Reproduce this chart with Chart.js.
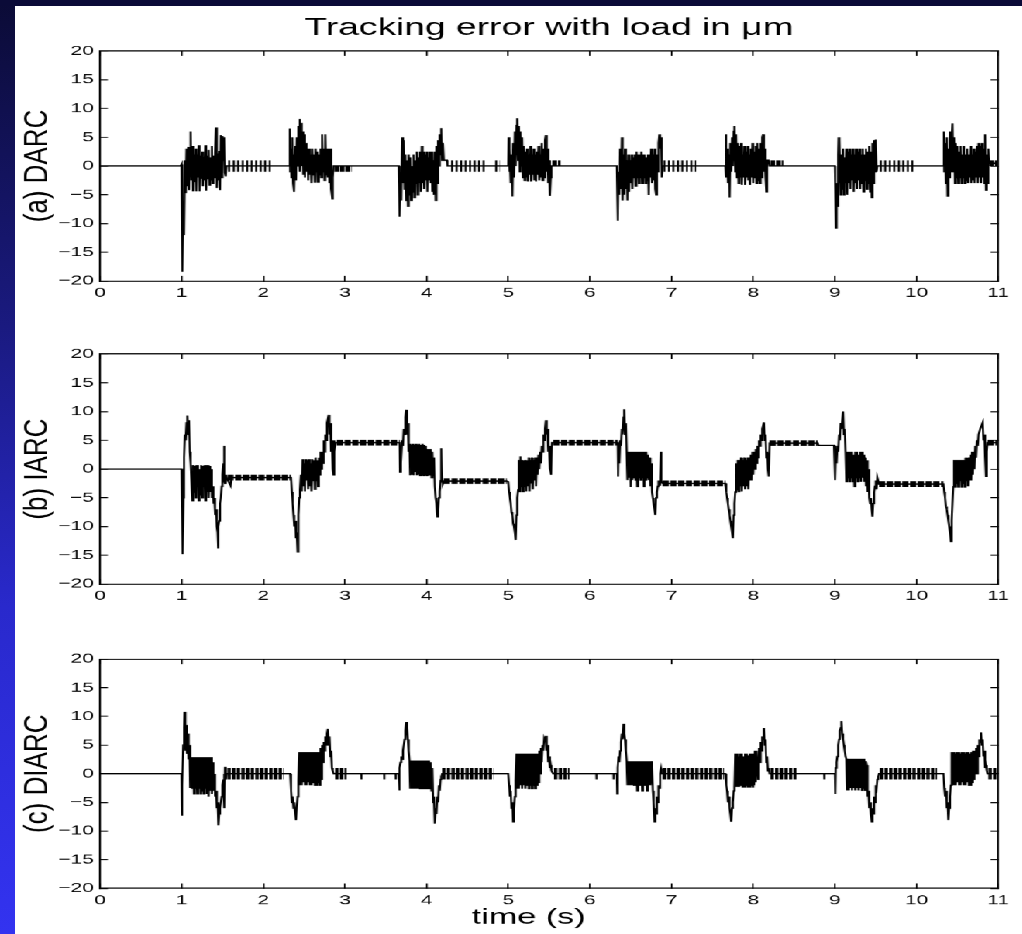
<!DOCTYPE html>
<html><head><meta charset="utf-8">
<script src="https://cdn.jsdelivr.net/npm/chart.js@4.4.1/dist/chart.umd.min.js"></script>
<style>
html,body{margin:0;padding:0;background:#fff;width:1022px;height:934px;overflow:hidden;position:relative}
#stretch{position:absolute;left:0;top:0;width:660px;height:934px;transform:scaleX(1.55);transform-origin:0 0}
#stretch canvas{position:absolute;left:0}
#leftbar{position:absolute;left:0;top:0;width:15px;height:934px;z-index:5;background:linear-gradient(to bottom,#0b0b36 0%,#1a1a80 35%,#2929cc 65%,#3333f0 100%)}
#topbar{position:absolute;left:0;top:0;width:1022px;height:6px;z-index:6;background:#0b0b38}
</style></head>
<body>
<div id="leftbar"></div><div id="topbar"></div>
<div id="stretch">
<canvas id="cA" width="660" height="320" style="top:0px"></canvas>
<canvas id="cB" width="660" height="293" style="top:330px"></canvas>
<canvas id="cC" width="660" height="294" style="top:640px"></canvas>
</div>
<script>
// ---------- texts ----------
const mainTitle = 'Tracking error with load in μm';
const xTitle = 'time (s)';
const panelNames = ['(a) DARC', '(b) IARC', '(c) DIARC'];
const xTickLabels = ['0','1','2','3','4','5','6','7','8','9','10','11'];
const yTickLabels = ['\u221220','\u221215','\u221210','\u22125','0','5','10','15','20'];

// ---------- (a) DARC : [time s, error um] ----------
const darcPts = [
[0,0],[0.99,0],[1.0,0.3],[1.005,-12],[1.012,-18.4],[1.02,-8],[1.03,-12],[1.04,1],[1.05,-4.7],[1.06,3],[1.07,-3.5],[1.08,3.3],[1.09,-4.2],[1.1,2.5],[1.11,6],[1.12,-2.5],[1.13,3.5],[1.14,-4.4],[1.15,2],[1.16,-2.8],[1.17,3],[1.18,-4.4],[1.19,2],[1.2,-2],[1.21,3.6],[1.22,-4.4],[1.23,1.8],[1.24,-2.2],[1.25,2.5],[1.26,-3.5],[1.27,1.6],[1.28,-2.5],[1.29,3.6],[1.3,-4.3],[1.31,1.8],[1.32,-2.2],[1.33,2.8],[1.34,-3.3],[1.35,1.5],[1.36,-2.4],[1.37,3.5],[1.38,-3],[1.39,1.8],[1.4,-2],[1.41,2.5],[1.42,6.7],[1.43,-3.8],[1.44,2.2],[1.45,-2.5],[1.46,2.6],[1.47,-4.2],[1.48,5.4],[1.49,-2],[1.5,5.2],[1.51,1],[1.52,5],[1.53,-1.2],[1.54,-1.8],[1.55,0],
[2.32,0],[2.325,6.5],[2.33,-1],[2.335,3],[2.345,-2],[2.355,5],[2.365,-3],[2.375,2],[2.38,-4.5],[2.39,3.5],[2.4,-2.5],[2.41,5],[2.42,0],[2.43,7],[2.44,1],[2.445,8.2],[2.45,-1],[2.46,7.5],[2.47,0],[2.48,6],[2.49,-1.5],[2.5,5.5],[2.51,-2],[2.52,4],[2.53,-1],[2.54,3],[2.55,-2.5],[2.56,3],[2.57,-1.5],[2.58,2],[2.59,-3],[2.6,3],[2.61,-1.5],[2.62,2],[2.63,-2.8],[2.64,3],[2.65,-1],[2.66,2.5],[2.67,-2.8],[2.68,2],[2.69,-1.5],[2.7,3],[2.71,-2],[2.72,5.5],[2.73,-1],[2.74,3],[2.75,-2.5],[2.76,5.5],[2.77,-1.5],[2.78,3],[2.79,-2],[2.8,3],[2.81,-3],[2.82,3],[2.83,-4],[2.845,-5.7],[2.85,-2],[2.86,0],
[3.66,0],[3.665,-3],[3.672,-8.8],[3.68,-2],[3.69,-6],[3.7,5],[3.71,-3],[3.72,4.5],[3.73,-4],[3.74,2],[3.75,-6],[3.76,1],[3.77,-7],[3.78,2],[3.79,-5],[3.8,1.5],[3.81,-6],[3.82,0],[3.83,-4.5],[3.84,2],[3.85,-5.5],[3.86,1],[3.87,-3],[3.88,2.5],[3.89,-5],[3.9,1.5],[3.91,-3],[3.92,2.5],[3.93,-4.5],[3.94,3.5],[3.95,-3],[3.96,2.5],[3.97,-4],[3.98,2],[3.99,-2.5],[4.0,2.5],[4.01,-4.5],[4.02,1.5],[4.03,-2.5],[4.04,2.5],[4.05,-3],[4.06,2.5],[4.07,-4.5],[4.08,1],[4.09,-5],[4.1,2.5],[4.11,-6],[4.12,3.5],[4.13,-3],[4.14,4.5],[4.15,0],[4.16,5.5],[4.17,2],[4.18,6.6],[4.19,1],[4.2,4],[4.21,1],[4.25,1],[4.255,0],
[5.0,0],[5.005,5],[5.01,-1],[5.02,3],[5.03,-3],[5.04,2],[5.05,-5.3],[5.06,4],[5.07,-2],[5.08,6],[5.09,0],[5.1,7],[5.11,8.3],[5.12,1],[5.13,7],[5.14,-1],[5.15,6],[5.16,0],[5.17,5],[5.18,-2],[5.19,3.5],[5.2,-2.5],[5.21,2.5],[5.22,-2],[5.23,3],[5.24,-2.7],[5.25,2],[5.26,-1.5],[5.27,3.5],[5.28,-2.7],[5.29,2],[5.3,-1.5],[5.31,3],[5.32,-2.5],[5.33,2],[5.34,-2.7],[5.35,2.5],[5.36,-1.5],[5.37,3.5],[5.38,-2.5],[5.39,2],[5.4,-2],[5.41,4],[5.42,-2.5],[5.43,3],[5.44,-2],[5.45,4.5],[5.46,5.4],[5.47,-1],[5.48,3],[5.49,-3],[5.5,1],[5.51,-5.2],[5.52,-2],[5.53,0],
[6.33,0],[6.335,-4],[6.342,-9.5],[6.35,-1],[6.36,-5],[6.37,3],[6.38,-4],[6.39,5],[6.4,-6],[6.41,2],[6.42,-5],[6.43,3],[6.44,-4],[6.45,1],[6.46,-6],[6.47,2],[6.48,-4.5],[6.49,1],[6.5,-3],[6.51,2],[6.52,-4],[6.53,1.5],[6.54,-2],[6.55,2],[6.56,-3.5],[6.57,2.5],[6.58,-2],[6.59,2],[6.6,-3],[6.61,2],[6.62,-2],[6.63,2.5],[6.64,-3],[6.65,2],[6.66,-2],[6.67,2],[6.68,-3],[6.69,1.5],[6.7,-2.5],[6.71,2],[6.72,-5],[6.73,2],[6.74,-2],[6.75,3],[6.76,-3],[6.77,2],[6.78,-2.5],[6.79,3],[6.8,-4],[6.81,-5],[6.82,2],[6.83,-1],[6.84,4],[6.85,5.5],[6.86,3],[6.87,5],[6.88,-2],[6.89,0],
[7.66,0],[7.665,5.5],[7.67,-2],[7.68,3],[7.69,-3],[7.7,2],[7.71,-5.5],[7.72,4],[7.73,-1],[7.74,5],[7.75,0],[7.76,6],[7.77,7],[7.78,-1],[7.79,5.5],[7.8,-2],[7.81,4],[7.82,-3],[7.83,3.5],[7.84,-2],[7.85,4],[7.86,-3.3],[7.87,2],[7.88,-2],[7.89,3.5],[7.9,-3.3],[7.91,2.5],[7.92,-2],[7.93,3.5],[7.94,-2.5],[7.95,2],[7.96,-3.3],[7.97,3],[7.98,-2],[7.99,4],[8.0,-3],[8.01,2.5],[8.02,-2],[8.03,3.5],[8.04,-3],[8.05,4],[8.06,-2.5],[8.07,3],[8.08,-3],[8.09,4],[8.1,-2],[8.11,5],[8.12,5.5],[8.13,-1],[8.14,3],[8.15,-2],[8.16,-4.5],[8.17,1],[8.19,1],[8.2,0],
[9.0,0],[9.005,-4],[9.012,-10.8],[9.02,-3],[9.03,-7],[9.04,2],[9.045,5],[9.05,-3],[9.06,4.5],[9.07,-5],[9.08,2],[9.09,-4],[9.1,3],[9.11,-5],[9.12,1.5],[9.13,-3],[9.14,3],[9.15,-5],[9.16,2.5],[9.17,-3],[9.18,3],[9.19,-4],[9.2,2],[9.21,-2.5],[9.22,3],[9.23,-4.5],[9.24,2],[9.25,-3],[9.26,3],[9.27,-4],[9.28,2.5],[9.29,-2.5],[9.3,3],[9.31,-4],[9.32,2],[9.33,-3],[9.34,3],[9.35,-4.5],[9.36,2],[9.37,-2.5],[9.38,3],[9.39,-4],[9.4,2.5],[9.41,-3],[9.42,3.5],[9.43,-4.5],[9.44,2.5],[9.45,-5.5],[9.46,4],[9.47,-3],[9.48,4.5],[9.49,-1],[9.5,4.6],[9.51,-1],[9.52,0],
[10.33,0],[10.335,6],[10.34,-1],[10.35,4],[10.36,-3],[10.37,5],[10.38,-5.2],[10.39,3],[10.4,-2],[10.41,6],[10.42,-1],[10.43,5],[10.44,7.4],[10.45,-1],[10.46,5],[10.47,-3],[10.48,4],[10.49,-2],[10.5,3.5],[10.51,-3],[10.52,2.5],[10.53,-2],[10.54,3.5],[10.55,-3],[10.56,2],[10.57,-2],[10.58,3.5],[10.59,-3],[10.6,2],[10.61,-2.5],[10.62,3],[10.63,-3],[10.64,2],[10.65,-2],[10.66,3.5],[10.67,-3],[10.68,2],[10.69,-2.5],[10.7,3],[10.71,-3],[10.72,2.5],[10.73,-2],[10.74,3.5],[10.75,-3],[10.76,4],[10.77,-2],[10.78,3.5],[10.79,-3],[10.8,4],[10.81,-2],[10.82,3],[10.83,-3],[10.84,5.5],[10.85,-4.2],[10.86,2],[10.87,-3],[10.88,3],[10.89,0.5],[11,0.5]
];
// small limit-cycle bursts: [start s, end s, level um]
const darcBarsFull = [[1.57,2.09,0],[4.3,4.72,0],[4.84,4.9,0],[6.9,7.3,0],[9.55,9.97,0]];
const darcBarsHalf = [[2.87,3.08,-0.5],[5.54,5.64,0.5],[8.21,8.37,0.5],[10.89,11,0.5]];

// ---------- (b) IARC ----------
const iarcPts = [
[0,0],[1.0,0],[1.008,-10],[1.015,-14.8],[1.022,-5],[1.03,2],[1.04,6],[1.05,5],[1.06,8],[1.07,9.3],[1.08,6],[1.09,8.5],[1.1,3],[1.11,1],[1.12,-2],[1.13,-5.5],[1.14,0.7],[1.15,-4],[1.16,0.5],[1.17,-5],[1.18,0.7],[1.19,-3],[1.2,0.7],[1.21,-5.5],[1.22,0],[1.23,-4.5],[1.24,0.7],[1.25,-5],[1.26,0.5],[1.27,-3],[1.28,0.7],[1.29,-5.5],[1.3,0.7],[1.31,-4],[1.32,0.7],[1.33,-5],[1.34,0.5],[1.35,-4],[1.36,0],[1.37,-5],[1.38,-3],[1.39,-6],[1.4,-5],[1.41,-8],[1.42,-7],[1.43,-10],[1.44,-11],[1.445,-13.8],[1.45,-10],[1.46,-9],[1.47,-6],[1.48,-5],[1.49,-3],[1.5,-1],[1.51,1],[1.52,4],[1.525,-2],[1.53,-2.5],[1.54,-1],[1.55,-1.5],[1.6,-2.9],[1.61,-1.5],
[2.34,-1.5],[2.35,-4],[2.36,-6],[2.37,-8],[2.38,-10],[2.39,-9],[2.4,-12],[2.41,-11],[2.42,-14.4],[2.43,-8],[2.44,-5],[2.45,-3.6],[2.46,-1],[2.47,-3.9],[2.48,1.7],[2.49,-3],[2.5,1],[2.51,-3.9],[2.52,1.7],[2.53,-2],[2.54,1.5],[2.55,-3.5],[2.56,1.7],[2.57,-3],[2.58,1],[2.59,-3.9],[2.6,1.7],[2.61,-2],[2.62,1.5],[2.63,-3.5],[2.64,2],[2.65,-2],[2.66,1.5],[2.67,-3],[2.68,2],[2.69,-1],[2.7,3],[2.71,0],[2.72,3],[2.73,1],[2.74,5],[2.75,3],[2.76,6],[2.77,5],[2.78,8],[2.8,9.4],[2.81,6],[2.82,8],[2.83,3],[2.84,5],[2.85,0],[2.857,-1],[2.865,5],[2.875,3],[2.885,4.6],[2.9,4.6],
[3.67,4.6],[3.675,-0.5],[3.68,3],[3.69,1],[3.7,5],[3.71,4],[3.72,7],[3.73,6],[3.74,9],[3.75,10.3],[3.76,6],[3.77,8],[3.78,3],[3.79,4.4],[3.8,-1.1],[3.81,4.2],[3.82,-1],[3.83,4.4],[3.84,-1.1],[3.85,4.2],[3.86,-0.5],[3.87,4.4],[3.88,-1.1],[3.89,4.2],[3.9,-1],[3.91,4.4],[3.92,-1.1],[3.93,4.2],[3.94,-1],[3.95,4.4],[3.96,-1.1],[3.97,4.2],[3.98,-1],[3.99,4],[4.0,-1.1],[4.01,3.5],[4.02,-1],[4.03,3.5],[4.04,-1],[4.05,3.5],[4.06,-1.5],[4.07,3],[4.08,-1],[4.09,2],[4.1,-3],[4.11,-5],[4.12,-6],[4.13,-8.3],[4.14,-7],[4.15,-5],[4.16,-4],[4.17,-2],[4.18,3.6],[4.19,-2],[4.2,-2.5],[4.21,-2.1],
[4.98,-2.1],[5.0,-2.2],[5.01,-4],[5.02,-5],[5.03,-6],[5.04,-7.5],[5.05,-8],[5.06,-9.5],[5.07,-10],[5.08,-11],[5.09,-12.3],[5.1,-8],[5.11,-5],[5.12,-3.6],[5.13,1.6],[5.14,-3.9],[5.15,2.2],[5.16,-3],[5.17,1.6],[5.18,-3.9],[5.19,1.5],[5.2,-3],[5.21,1.6],[5.22,-3.9],[5.23,1.5],[5.24,-3],[5.25,2],[5.26,-3.9],[5.27,1.6],[5.28,-2.5],[5.29,2],[5.3,-3.5],[5.31,1.6],[5.32,-2],[5.33,2],[5.34,-3],[5.35,2],[5.36,-1],[5.37,2.5],[5.38,0],[5.39,3],[5.4,1],[5.41,4],[5.42,3],[5.43,6],[5.44,5],[5.45,7],[5.46,8.5],[5.47,6],[5.48,7],[5.49,3],[5.5,4],[5.51,0],[5.525,-1],[5.535,4.6],[5.55,4.6],
[6.34,4.6],[6.345,-1.3],[6.35,3],[6.36,1],[6.37,5],[6.38,4],[6.39,7],[6.4,6],[6.41,9],[6.42,10.4],[6.43,6],[6.44,8],[6.45,3],[6.46,-1.9],[6.47,3],[6.48,-1.5],[6.49,3],[6.5,-3.1],[6.51,3],[6.52,-1.9],[6.53,3],[6.54,-1.5],[6.55,3],[6.56,-1.9],[6.57,3],[6.58,-3],[6.59,3],[6.6,-1.5],[6.61,3],[6.62,-1.9],[6.63,3],[6.64,-1.5],[6.65,3],[6.66,-3],[6.67,3],[6.68,-1.9],[6.69,3],[6.7,-1.5],[6.71,2.5],[6.72,-1.9],[6.73,2],[6.74,-3],[6.75,1],[6.76,-4],[6.77,-5],[6.78,-6],[6.79,-7],[6.8,-8],[6.81,-5],[6.82,-4],[6.83,-3],[6.84,-2],[6.85,-2.8],[6.86,-1.5],[6.87,3],[6.875,-2],[6.89,-2.5],
[7.66,-2.5],[7.67,-4],[7.68,-5],[7.69,-6],[7.7,-7],[7.71,-8],[7.72,-9],[7.73,-10],[7.74,-11],[7.75,-12],[7.76,-8],[7.77,-6],[7.78,-4],[7.79,1],[7.8,-3.6],[7.81,1.6],[7.82,-3.9],[7.83,1.6],[7.84,-3],[7.85,2],[7.86,-3.9],[7.87,1.6],[7.88,-3],[7.89,2],[7.9,-3.5],[7.91,1.6],[7.92,-3],[7.93,2],[7.94,-3.5],[7.95,2],[7.96,-2],[7.97,2.5],[7.98,-2],[7.99,3],[8.0,-1],[8.01,3],[8.02,0],[8.03,3.5],[8.04,1],[8.05,4],[8.06,2],[8.07,5],[8.08,4],[8.09,6],[8.1,5],[8.11,7],[8.13,8.1],[8.14,5],[8.15,6],[8.16,2],[8.17,3],[8.18,0],[8.19,-1.3],[8.2,4.5],
[8.79,4.5],[8.8,4.1],[8.99,4.1],[9.0,4],[9.005,-1.9],[9.01,2],[9.02,1],[9.03,4],[9.04,3],[9.05,6],[9.06,5],[9.07,8],[9.08,7],[9.1,10],[9.11,6],[9.12,7],[9.13,3],[9.14,-2.2],[9.15,3],[9.16,-1.5],[9.17,3],[9.18,-2.2],[9.19,3],[9.2,-1.5],[9.21,3],[9.22,-2.2],[9.23,2.5],[9.24,-3],[9.25,3],[9.26,-1.5],[9.27,3],[9.28,-2.2],[9.29,2.5],[9.3,-1.5],[9.31,3],[9.32,-2.2],[9.33,3],[9.34,-1.5],[9.35,2.5],[9.36,-2.2],[9.37,2],[9.38,-3],[9.39,1.5],[9.4,-4],[9.41,0],[9.42,-5],[9.43,-6],[9.44,-5],[9.45,-7],[9.46,-8.3],[9.47,-6],[9.48,-4],[9.49,-3],[9.5,-2],[9.51,-3.5],[9.52,-1.5],[9.54,-2.6],
[10.33,-2.6],[10.34,-4],[10.35,-5],[10.36,-6.5],[10.37,-7],[10.38,-8],[10.39,-9],[10.4,-10],[10.41,-11],[10.42,-12.6],[10.43,-9],[10.44,-6],[10.45,-3.1],[10.46,1.6],[10.47,-3.1],[10.48,1.6],[10.49,-2.5],[10.5,1.6],[10.51,-3.1],[10.52,1.6],[10.53,-2],[10.54,1.6],[10.55,-3.1],[10.56,1.6],[10.57,-2.5],[10.58,1.6],[10.59,-3.1],[10.6,2],[10.61,-2],[10.62,2],[10.63,-3],[10.64,2],[10.65,-2],[10.66,2.5],[10.67,-2],[10.68,3],[10.69,-1],[10.7,3],[10.71,0],[10.72,4],[10.73,2],[10.74,5],[10.75,4],[10.76,6],[10.77,6],[10.78,7],[10.79,7],[10.81,8.1],[10.82,5],[10.83,6],[10.84,2],[10.85,-1.3],[10.86,3],[10.87,4.6],[11,4.6]
];
// settled offset plateaus: [start s, end s, level um]
const iarcPlateaus = [[1.56,2.34,-1.5],[2.9,3.67,4.6],[4.21,4.98,-2.1],[5.55,6.34,4.6],[6.89,7.66,-2.5],[8.2,8.79,4.5],[9.54,10.33,-2.6],[10.87,11,4.6]];

// ---------- (c) DIARC ----------
const diarcPts = [
[0,0],[1.0,0],[1.002,-4],[1.005,-7.3],[1.01,-2],[1.02,5],[1.03,8],[1.035,10.8],[1.04,4],[1.045,8.7],[1.05,4],[1.055,8.5],[1.06,3.5],[1.065,8],[1.07,3.5],[1.075,7],[1.08,3],[1.085,7],[1.09,2.5],[1.095,5],[1.1,-1],[1.105,4],[1.11,-2.5],[1.12,2.9],[1.13,-2.5],[1.14,2.9],[1.15,-3.5],[1.16,2.9],[1.17,-2.5],[1.18,2.9],[1.19,-3.5],[1.2,2.9],[1.21,-2.5],[1.22,2.9],[1.23,-3.5],[1.24,2.9],[1.25,-3],[1.26,2.9],[1.27,-3.5],[1.28,2.9],[1.29,-2.5],[1.3,2.9],[1.31,-3.5],[1.32,2.9],[1.33,-4],[1.34,2.9],[1.35,-3],[1.36,2.9],[1.37,-3.5],[1.38,2],[1.39,-3],[1.4,0],[1.41,-4],[1.42,-3],[1.43,-6],[1.44,-5],[1.45,-9],[1.46,-7],[1.47,-6],[1.48,-5],[1.49,-4],[1.5,-2],[1.51,-1],[1.52,0],[1.525,-6],[1.53,1.2],[1.54,-1],[1.55,0],
[2.33,0],[2.34,-3],[2.35,-5],[2.36,-4],[2.37,-6],[2.38,-5],[2.39,-7],[2.4,-8.1],[2.41,-6],[2.42,-4],[2.43,-1.2],[2.44,3.8],[2.45,-2],[2.46,3.8],[2.47,-2],[2.48,3.8],[2.49,-1.5],[2.5,3.8],[2.51,-2],[2.52,3.8],[2.53,-2],[2.54,3.8],[2.55,-1.5],[2.56,3.8],[2.57,-2],[2.58,3.8],[2.59,-2],[2.6,3.8],[2.61,-1.5],[2.62,3.8],[2.63,-2],[2.64,3.8],[2.65,-2],[2.66,3.8],[2.67,-1.5],[2.68,3.8],[2.69,-2],[2.7,4.5],[2.71,-1],[2.72,5],[2.73,2],[2.74,5.5],[2.75,4],[2.76,6.5],[2.77,5],[2.78,7],[2.79,7.8],[2.8,5],[2.81,6.5],[2.82,3],[2.83,4],[2.84,1],[2.85,0.5],[2.86,0],
[3.2,0],[3.201,-1],[3.203,0],[3.48,0],[3.481,-1],[3.483,0],[3.62,0],[3.621,-1],[3.623,0],
[3.66,0],[3.665,-2.9],[3.67,1],[3.68,2],[3.69,3],[3.7,2.5],[3.71,4],[3.72,5],[3.73,6],[3.74,7.5],[3.75,9],[3.76,8],[3.77,6],[3.78,4],[3.79,2.3],[3.8,-2.6],[3.81,2.3],[3.82,-2.6],[3.83,2.3],[3.84,-2.6],[3.85,2.3],[3.86,-2.6],[3.87,2.3],[3.88,-2.6],[3.89,2.3],[3.9,-2.6],[3.91,2.3],[3.92,-2.6],[3.93,2.3],[3.94,-2.6],[3.95,2.3],[3.96,-2.6],[3.97,2.3],[3.98,-2.6],[3.99,2.3],[4.0,-2.6],[4.01,2.3],[4.02,-2.6],[4.03,2.3],[4.04,-2.6],[4.05,2],[4.06,-3],[4.07,1],[4.08,-5],[4.09,-4],[4.1,-8.7],[4.11,-6],[4.12,-7],[4.13,-4],[4.14,-5],[4.15,-2],[4.16,-3],[4.17,-1],[4.18,-0.5],[4.19,0],
[5.0,0],[5.01,-2],[5.02,-4],[5.03,-3],[5.04,-6],[5.05,-5],[5.06,-8.4],[5.07,-6],[5.08,-4],[5.09,-1.2],[5.1,3.5],[5.11,-2.6],[5.12,3.5],[5.13,-2.6],[5.14,3.5],[5.15,-2],[5.16,3.5],[5.17,-2.6],[5.18,3.5],[5.19,-2],[5.2,3.5],[5.21,-2.6],[5.22,3.5],[5.23,-2],[5.24,3.5],[5.25,-2.6],[5.26,3.5],[5.27,-2],[5.28,3.5],[5.29,-2.6],[5.3,3.5],[5.31,-2],[5.32,3.5],[5.33,-2.6],[5.34,3.5],[5.35,-2],[5.36,3.5],[5.37,-1.5],[5.38,4],[5.39,0],[5.4,4.5],[5.41,2],[5.42,5],[5.43,4],[5.44,6],[5.45,5.5],[5.46,6.6],[5.47,4],[5.48,5],[5.49,2],[5.5,3],[5.51,1],[5.52,1.5],[5.53,0.5],[5.55,0],
[6.08,0],[6.081,-1],[6.083,0],[6.29,0],[6.291,-1],[6.293,0],
[6.33,0],[6.335,-3.5],[6.34,1],[6.35,3],[6.36,2],[6.37,4],[6.38,5.5],[6.39,7],[6.4,6],[6.41,8.7],[6.42,7],[6.43,6],[6.44,4],[6.45,2.2],[6.46,-2],[6.47,2.2],[6.48,-2],[6.49,2.2],[6.5,-2],[6.51,2.2],[6.52,-2],[6.53,2.2],[6.54,-2],[6.55,2.2],[6.56,-2],[6.57,2.2],[6.58,-3],[6.59,2.2],[6.6,-2],[6.61,2.2],[6.62,-2],[6.63,2.2],[6.64,-3],[6.65,2.2],[6.66,-2],[6.67,2.2],[6.68,-2],[6.69,2.2],[6.7,-3],[6.71,2.2],[6.72,-2],[6.73,2.2],[6.74,-2],[6.75,2.2],[6.76,1],[6.77,-3],[6.78,-5],[6.79,-8.4],[6.8,-6],[6.81,-7],[6.82,-4],[6.83,-5],[6.84,-2],[6.85,-2.5],[6.86,0],[6.87,0.9],[6.88,0],
[7.66,0],[7.67,-2],[7.68,-3],[7.69,-5],[7.7,-4],[7.71,-6],[7.72,-7],[7.73,-8.4],[7.74,-6],[7.75,-5],[7.76,-3],[7.77,-2.3],[7.78,3.5],[7.79,-2.3],[7.8,3.5],[7.81,-2.3],[7.82,3],[7.83,-2.3],[7.84,3.5],[7.85,-2],[7.86,3.5],[7.87,-2.3],[7.88,3],[7.89,-2.3],[7.9,3.5],[7.91,-2],[7.92,3.5],[7.93,-2.3],[7.94,3.2],[7.95,-2.3],[7.96,3.5],[7.97,-2],[7.98,3.5],[7.99,-2.3],[8.0,3.5],[8.01,-2],[8.02,4],[8.03,-1.5],[8.04,4],[8.05,4],[8.06,-1],[8.07,4.5],[8.08,2],[8.09,5.5],[8.1,4],[8.11,6.5],[8.12,6],[8.13,8],[8.14,5],[8.15,6],[8.16,2],[8.17,3],[8.18,0.5],[8.19,1],[8.2,0],
[8.87,0],[8.871,-1],[8.873,0],
[9.0,0],[9.005,-3.5],[9.01,1],[9.02,2],[9.03,3],[9.04,5],[9.05,6],[9.06,7.5],[9.07,8],[9.08,9.2],[9.09,7],[9.1,6],[9.11,5],[9.12,4],[9.13,3],[9.14,2.6],[9.15,-2.9],[9.16,2.6],[9.17,-2.9],[9.18,2.6],[9.19,-2.5],[9.2,2.6],[9.21,-2.9],[9.22,2.6],[9.23,-2.5],[9.24,2.6],[9.25,-2.9],[9.26,2.6],[9.27,-2.5],[9.28,2.6],[9.29,-2.9],[9.3,2.6],[9.31,-2.5],[9.32,2.6],[9.33,-2.9],[9.34,2.6],[9.35,-2.5],[9.36,2.6],[9.37,-2.9],[9.38,2.2],[9.39,1.5],[9.4,-4],[9.41,-3],[9.42,-6],[9.43,-5],[9.44,-7],[9.45,-8.4],[9.46,-6],[9.47,-7],[9.48,-4],[9.49,-5],[9.5,-2],[9.51,-2.5],[9.52,-1],[9.53,-0.5],[9.54,0],
[10.33,0],[10.34,-2.5],[10.35,-4],[10.36,-3],[10.37,-6],[10.38,-5],[10.39,-8.1],[10.4,-6],[10.41,-4],[10.42,-2],[10.43,3.8],[10.44,-2],[10.45,3.8],[10.46,-2],[10.47,3.5],[10.48,-2],[10.49,3.8],[10.5,-1.5],[10.51,3.8],[10.52,-2],[10.53,3.5],[10.54,-2],[10.55,3.8],[10.56,-1.5],[10.57,3.8],[10.58,-2],[10.59,3.5],[10.6,-2],[10.61,3.8],[10.62,-1.5],[10.63,3.8],[10.64,-2],[10.65,3.5],[10.66,-2],[10.67,3.8],[10.68,-1.5],[10.69,4],[10.7,-1],[10.71,4],[10.72,0],[10.73,4.5],[10.74,0],[10.75,5],[10.76,3],[10.77,6],[10.78,5.5],[10.79,7.2],[10.8,5],[10.81,6],[10.82,3],[10.83,4],[10.84,1],[10.85,1.5],[10.86,0.5],[10.87,0],[11,0]
];
const diarcBars = [[1.56,2.25,0],[2.88,3.02,0],[4.19,4.82,0],[5.56,5.75,0],[6.89,7.64,0],[8.21,8.53,0],[9.55,10.25,0],[10.88,11,0]];

// ---------- drawing ----------
const S = 1.55;              // horizontal stretch of the original figure
const W = 660;               // logical canvas width
const LEFT = 100 / S;        // y-axis band width
const RPAD = W - 1005 / S;   // right padding
const FONT = "'Liberation Sans', Arial, Helvetica, sans-serif";

const toXY = arr => arr.map(([x, y]) => ({x, y}));
const toSegs = arr => {
  const out = [];
  arr.forEach(([a, b, l]) => { out.push({x: a, y: l}, {x: b, y: l}, {x: b, y: null}); });
  return out;
};
const bandPx = (chart, units) => {
  const y = chart.scales.y;
  if (!y) return 1;
  return Math.abs(y.getPixelForValue(0) - y.getPixelForValue(units));
};

// panel labels (left, rotated) and the bottom axis caption
const panelLabel = {
  id: 'panelLabel',
  afterDraw(chart, args, opts) {
    const ys = chart.scales.y;
    const ctx = chart.ctx;
    ctx.save();
    ctx.scale(opts.kx / S, 1);
    ctx.translate(opts.x / opts.kx, (ys.top + ys.bottom) / 2);
    ctx.rotate(-Math.PI / 2);
    ctx.font = opts.size + 'px ' + FONT;
    ctx.fillStyle = '#000';
    ctx.textAlign = 'center';
    ctx.textBaseline = 'middle';
    ctx.fillText(opts.text, 0, 0);
    ctx.restore();
    if (opts.caption) {
      const xs = chart.scales.x;
      ctx.save();
      ctx.font = opts.caption.size + 'px ' + FONT;
      ctx.fillStyle = '#000';
      ctx.textAlign = 'center';
      ctx.textBaseline = 'middle';
      ctx.fillText(opts.caption.text, xs.getPixelForValue(opts.caption.at), xs.bottom - opts.caption.up);
      ctx.restore();
    }
  }
};

function gridOpts() {
  return {drawOnChartArea: false, drawTicks: true, tickLength: -5, color: '#000', lineWidth: 1};
}
function borderOpts() { return {display: true, color: '#000', width: 1.2}; }

function scales(xh) {
  const tickFont = {family: FONT, size: 13.5};
  return {
    x: {type: 'linear', position: 'bottom', min: 0, max: 11,
      ticks: {font: tickFont, color: '#000', stepSize: 1, padding: 9, maxRotation: 0, autoSkip: false,
              callback: (v, i) => xTickLabels[i]},
      grid: gridOpts(), border: borderOpts(),
      afterFit: s => { s.height = xh; }},
    x2: {type: 'linear', position: 'top', min: 0, max: 11,
      ticks: {display: false, stepSize: 1},
      grid: gridOpts(), border: borderOpts(),
      afterFit: s => { s.height = 0; }},
    y: {type: 'linear', position: 'left', min: -20, max: 20,
      ticks: {font: tickFont, color: '#000', stepSize: 5, padding: 9,
              callback: (v, i) => yTickLabels[i]},
      grid: gridOpts(), border: borderOpts(),
      afterFit: s => { s.width = LEFT; }},
    y2: {type: 'linear', position: 'right', min: -20, max: 20,
      ticks: {display: false, stepSize: 5},
      grid: gridOpts(), border: borderOpts(),
      afterFit: s => { s.width = 0; }}
  };
}

function lineSet(data) {
  return {data: toXY(data), borderColor: '#000', borderWidth: 1.35, pointRadius: 0,
          tension: 0, fill: false, clip: 0, xAxisID: 'x', yAxisID: 'y'};
}
function bandSet(segs, units, dash) {
  return {data: toSegs(segs), borderColor: '#000', pointRadius: 0, tension: 0, fill: false,
          spanGaps: false, clip: 0, borderDash: dash, borderCapStyle: 'butt',
          borderWidth: c => bandPx(c.chart, units), xAxisID: 'x', yAxisID: 'y'};
}

function makeChart(id, datasets, opts) {
  return new Chart(document.getElementById(id), {
    type: 'line',
    data: {datasets},
    options: {
      responsive: false, animation: false, devicePixelRatio: S, events: [],
      layout: {autoPadding: false, padding: {left: 0, right: RPAD, top: opts.padTop, bottom: 0}},
      scales: scales(opts.xh),
      plugins: {
        legend: {display: false}, tooltip: {enabled: false},
        title: opts.title ? {display: true, text: mainTitle, color: '#000', fullSize: false,
          font: {family: FONT, size: 24, weight: 'normal'}, padding: {top: 14, bottom: 8.2}} : {display: false},
        panelLabel: {text: opts.label, x: 38, kx: 1.3, size: 26,
          caption: opts.caption ? {text: xTitle, size: 22, at: 5.25, up: 17} : null}
      }
    },
    plugins: [panelLabel]
  });
}

makeChart('cA', [lineSet(darcPts), bandSet(darcBarsFull, 2, [1.3, 1.6]), bandSet(darcBarsHalf, 1, [3, 0.6])],
  {padTop: 0, xh: 39, title: true, label: panelNames[0]});
makeChart('cB', [lineSet(iarcPts), bandSet(iarcPlateaus, 1, [4, 1])],
  {padTop: 24, xh: 39, label: panelNames[1]});
makeChart('cC', [lineSet(diarcPts), bandSet(diarcBars, 2, [2.2, 0.8])],
  {padTop: 19, xh: 46, caption: true, label: panelNames[2]});
</script>
</body></html>
